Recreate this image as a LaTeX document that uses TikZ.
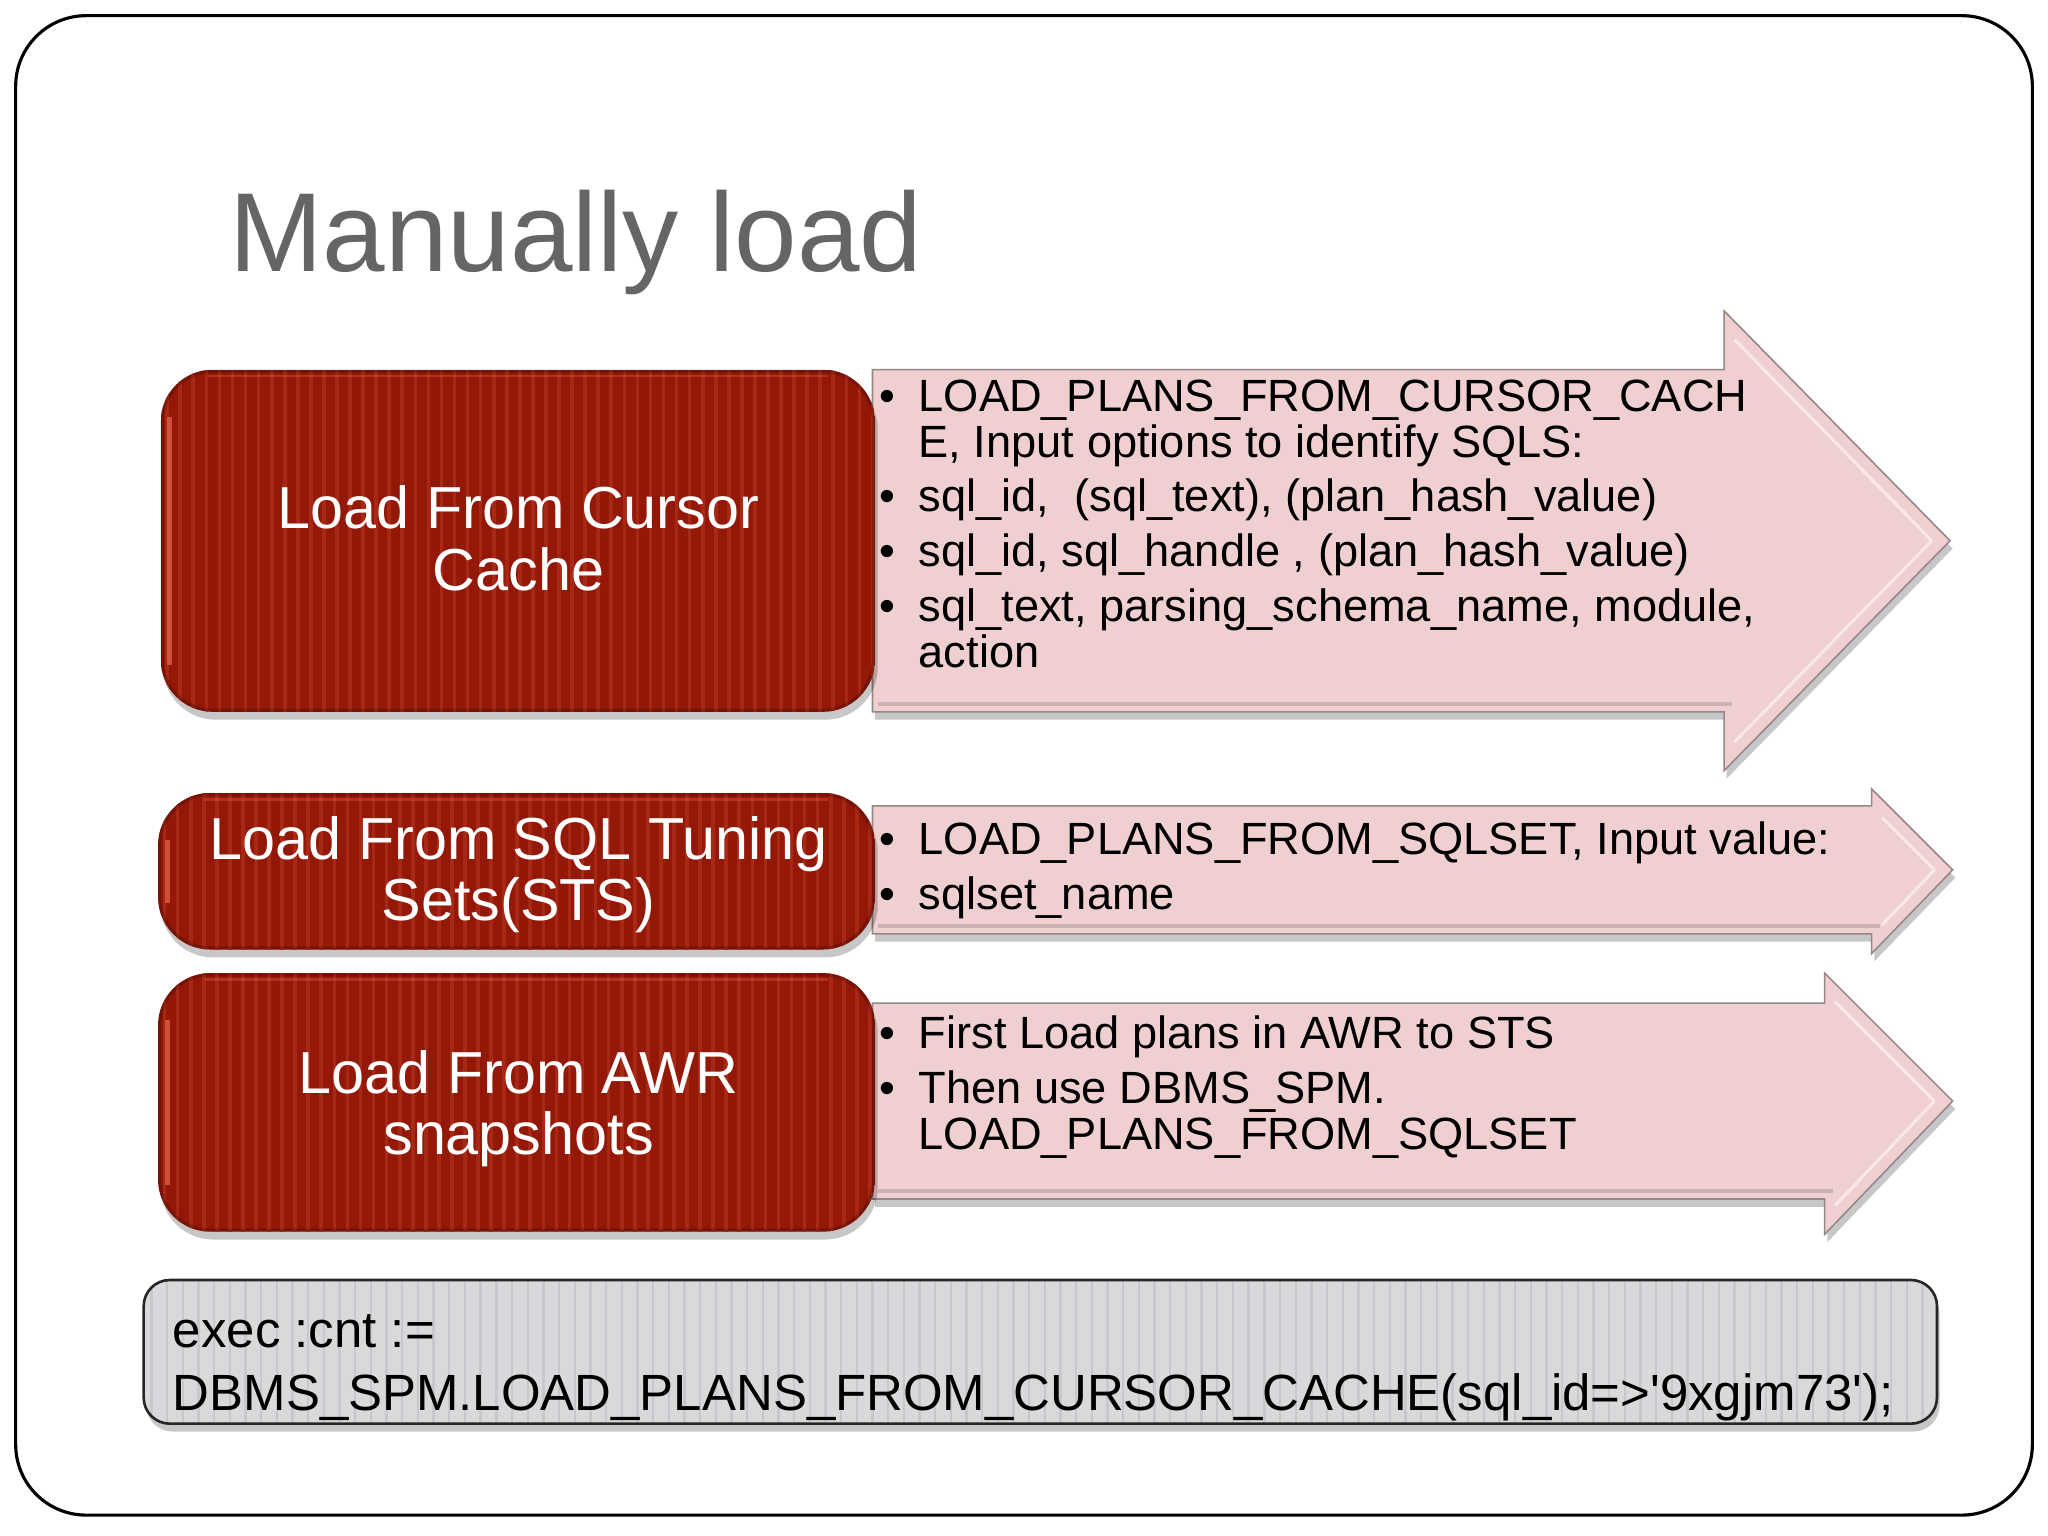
\documentclass[tikz,border=0pt]{standalone}
\usepackage{fontspec}
\setmainfont{Liberation Sans}
\definecolor{titlegray}{RGB}{102,100,102}
\definecolor{redbase}{RGB}{148,24,8}
\definecolor{redstripe}{RGB}{168,40,22}
\definecolor{redhi}{RGB}{226,100,74}
\definecolor{pinkfill}{RGB}{239,207,207}
\definecolor{pinkedge}{RGB}{150,135,135}
\definecolor{pinkhi}{RGB}{250,232,232}
\definecolor{boxgray}{RGB}{217,217,219}
\definecolor{boxstripe}{RGB}{200,200,204}
\tikzset{
  redtext/.style={text=white, font=\fontsize{22.7}{23}\selectfont, anchor=base, inner sep=0pt},
  armtext/.style={text=black, font=\fontsize{17.3}{18}\selectfont, anchor=base west, inner sep=0pt},
  codetext/.style={text=black, font=\fontsize{19.5}{20}\selectfont, anchor=base west, inner sep=0pt},
  titletext/.style={text=titlegray, font=\fontsize{43}{43}\selectfont, anchor=base west, inner sep=0pt},
  arrowshape/.style={fill=pinkfill, draw=pinkedge, line width=0.6pt, line join=miter},
  shadowshape/.style={fill=black, opacity=0.22},
  frameline/.style={draw=black, line width=1.2pt, rounded corners=27pt},
}
\newcommand\redpanel[4]{%
  \fill[shadowshape, rounded corners=20pt] (#1+2,#2+6) rectangle (#3+2,#4+6);
  \begin{scope}
    \clip[rounded corners=20pt] (#1,#2) rectangle (#3,#4);
    \fill[redbase] (#1,#2) rectangle (#3,#4);
    \foreach \k in {0,...,56} {
      \draw[redstripe, line width=1.4pt] ({#1+5+\k*10},#2) -- ++(0,#4-#2);
    }
    \draw[redhi, line width=1.8pt, opacity=0.75] (#1+7,#2+36) -- (#1+7,#4-36);
    \draw[redhi, line width=1pt, opacity=0.35] (#1+36,#2+5) -- (#3-36,#2+5);
    \draw[black, line width=2.5pt, opacity=0.2, rounded corners=20pt] (#1,#2) rectangle (#3,#4);
  \end{scope}
}
\newcommand\pinkarrow[7]{% xleft ytop ybot xhead yheadtop yheadbot xtip
  \fill[shadowshape] (#1+2,#2+6) -- (#4+2,#2+6) -- (#4+2,#5+6) -- (#7+2,{(#2+#3)/2+6}) -- (#4+2,#6+6) -- (#4+2,#3+6) -- (#1+2,#3+6) -- cycle;
  \path[arrowshape] (#1,#2) -- (#4,#2) -- (#4,#5) -- (#7,{(#2+#3)/2}) -- (#4,#6) -- (#4,#3) -- (#1,#3) -- cycle;
  \draw[pinkhi, line width=1.2pt] (#4+8,#5+22) -- ({#7-14},{(#2+#3)/2});
  \draw[pinkhi, line width=1.2pt] (#4+8,#6-22) -- ({#7-14},{(#2+#3)/2});
  \draw[pinkedge!40!pinkfill, line width=1.5pt] (#1+4,#3-6) -- (#4+6,#3-6);
}
\begin{document}
\begin{tikzpicture}[x=0.5pt,y=-0.5pt]
\useasboundingbox (0,0) rectangle (1568,1176);
\fill[white] (0,0) rectangle (1568,1176);
\draw[frameline] (12,12) rectangle (1556,1160);

\node[titletext] (title) at (175,208) {Manually load};

% arrows
\pinkarrow{668}{283}{545}{1320}{238}{590}{1493}
\pinkarrow{668}{617}{715}{1433}{604}{730}{1495}
\pinkarrow{668}{768}{918}{1397}{745}{945}{1495}

% red panels
\redpanel{123}{283}{670}{545}
\redpanel{121}{607}{670}{727}
\redpanel{121}{745}{670}{943}

\node[redtext] (c1a) at (397,405) {Load From Cursor};
\node[redtext] (c1b) at (397,452) {Cache};
\node[redtext] (c2a) at (397,658) {Load From SQL Tuning};
\node[redtext] (c2b) at (397,705) {Sets(STS)};
\node[redtext] (c3a) at (397,837) {Load From AWR};
\node[redtext] (c3b) at (397,884) {snapshots};

% arrow 1 text
\node[armtext] (b11) at (673,315) {•};
\node[armtext] (t11) at (703,315) {LOAD\_PLANS\_FROM\_CURSOR\_CACH};
\node[armtext] (t12) at (703,350) {E, Input options to identify SQLS:};
\node[armtext] (b12) at (673,392) {•};
\node[armtext] (t13) at (703,392) {sql\_id,\ \ (sql\_text), (plan\_hash\_value)};
\node[armtext] (b13) at (673,434) {•};
\node[armtext] (t14) at (703,434) {sql\_id, sql\_handle , (plan\_hash\_value)};
\node[armtext] (b14) at (673,476) {•};
\node[armtext] (t15) at (703,476) {sql\_text, parsing\_schema\_name, module,};
\node[armtext] (t16) at (703,511) {action};

% arrow 2 text
\node[armtext] (b21) at (673,654) {•};
\node[armtext] (t21) at (703,654) {LOAD\_PLANS\_FROM\_SQLSET, Input value:};
\node[armtext] (b22) at (673,696) {•};
\node[armtext] (t22) at (703,696) {sqlset\_name};

% arrow 3 text
\node[armtext] (b31) at (673,803) {•};
\node[armtext] (t31) at (703,803) {First Load plans in AWR to STS};
\node[armtext] (b32) at (673,845) {•};
\node[armtext] (t32) at (703,845) {Then use DBMS\_SPM.};
\node[armtext] (t33) at (703,880) {LOAD\_PLANS\_FROM\_SQLSET};

% code box
\fill[shadowshape, rounded corners=10pt] (112,986) rectangle (1485,1096);
\begin{scope}
  \clip[rounded corners=10pt] (110,980) rectangle (1483,1090);
  \fill[boxgray] (110,980) rectangle (1483,1090);
  \foreach \k in {0,...,115} {
    \draw[boxstripe, line width=0.9pt] ({116+\k*12},980) -- ++(0,110);
  }
\end{scope}
\draw[draw=black!85, line width=1pt, rounded corners=10pt] (110,980) rectangle (1483,1090);
\node[codetext] (k1) at (132,1032) {exec :cnt :=};
\node[codetext] (k2) at (132,1080) {DBMS\_SPM.LOAD\_PLANS\_FROM\_CURSOR\_CACHE(sql\_id=>\textquotesingle 9xgjm73\textquotesingle);};
\end{tikzpicture}
\end{document}
